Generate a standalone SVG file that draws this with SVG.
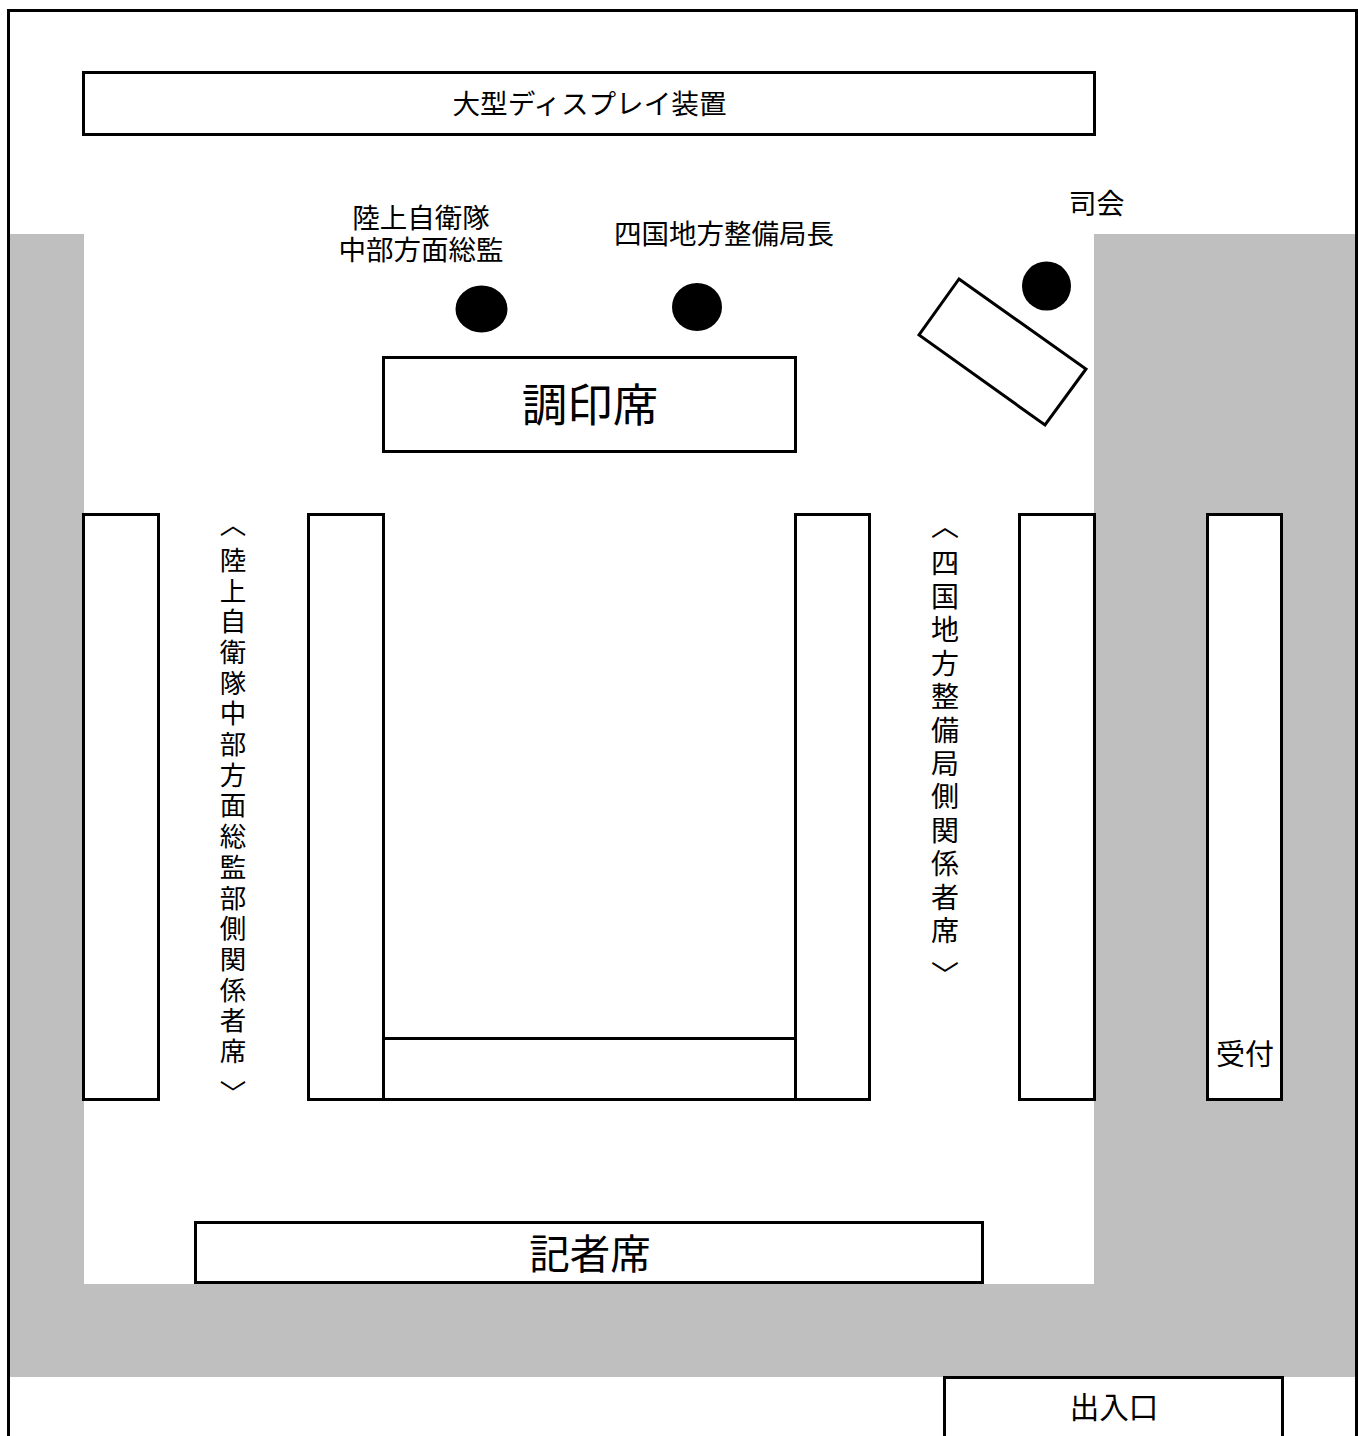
<svg xmlns="http://www.w3.org/2000/svg" width="1358" height="1436" viewBox="0 0 1358 1436">
<style>
.b{fill:#fff;stroke:#000;stroke-width:3}
.t{font-family:"Noto Sans CJK JP","Liberation Sans",sans-serif;fill:#000;text-anchor:middle}
.v{writing-mode:vertical-rl;text-anchor:start}
</style>
<rect width="1358" height="1436" fill="#fff"/>
<path d="M10 234H84V1284H1094V234H1355V1377H10Z" fill="#bfbfbf"/>
<path d="M8.5 1436V10.5H1356.500V1436" fill="none" stroke="#000" stroke-width="3"/>
<g id="display"><rect class="b" x="83.500" y="72.500" width="1011" height="62"/><text class="t" x="589.500" y="113.500" font-size="27.600">大型ディスプレイ装置</text></g>
<g id="gsdf-label"><text class="t" font-size="27.500"><tspan x="421" y="228">陸上自衛隊</tspan><tspan x="421" y="260">中部方面総監</tspan></text></g>
<g id="shikoku-label"><text class="t" x="724" y="244" font-size="27.500">四国地方整備局長</text></g>
<g id="mc-label"><text class="t" x="1096.500" y="214" font-size="28">司会</text></g>
<g id="seat-gsdf"><ellipse cx="481.500" cy="309" rx="26" ry="23.500"/></g>
<g id="seat-shikoku"><ellipse cx="697" cy="307" rx="25" ry="24"/></g>
<g id="seat-mc"><circle cx="1046.500" cy="286" r="24.500"/></g>
<g id="mc-desk"><path class="b" d="M959 279L1086 369L1045 425L919 335Z" stroke-width="2"/></g>
<g id="signing"><rect class="b" x="383.500" y="357.500" width="412" height="94"/><text class="t" x="590" y="421.500" font-size="45.500">調印席</text></g>
<g id="left-outer"><rect class="b" x="83.500" y="514.500" width="75" height="585"/></g>
<g id="left-label"><text class="t v" x="233" font-size="26.500"><tspan y="511">〈</tspan><tspan y="546" letter-spacing="4.200">陸上自衛隊中部方面総監部側関係者席</tspan><tspan y="1080">〉</tspan></text></g>
<g id="left-inner"><rect class="b" x="308.500" y="514.500" width="75" height="585"/></g>
<g id="center-bottom"><rect class="b" x="383.500" y="1038.500" width="412" height="61"/></g>
<g id="right-inner"><rect class="b" x="795.500" y="514.500" width="74" height="585"/></g>
<g id="right-label"><text class="t v" x="945" font-size="28"><tspan y="511.500">〈</tspan><tspan y="549" letter-spacing="5.400">四国地方整備局側関係者席</tspan><tspan y="961">〉</tspan></text></g>
<g id="right-outer"><rect class="b" x="1019.500" y="514.500" width="75" height="585"/></g>
<g id="reception"><rect class="b" x="1207.500" y="514.500" width="74" height="585"/><text class="t" x="1245" y="1065" font-size="29">受付</text></g>
<g id="press"><rect class="b" x="195.500" y="1222.500" width="787" height="60"/><text class="t" x="590" y="1268.500" font-size="40.500">記者席</text></g>
<g id="entrance"><path class="b" d="M944.500 1436V1377.500H1282.500V1436"/><text class="t" x="1114" y="1418" font-size="29.500">出入口</text></g>
<g id="connectors"></g>
</svg>
